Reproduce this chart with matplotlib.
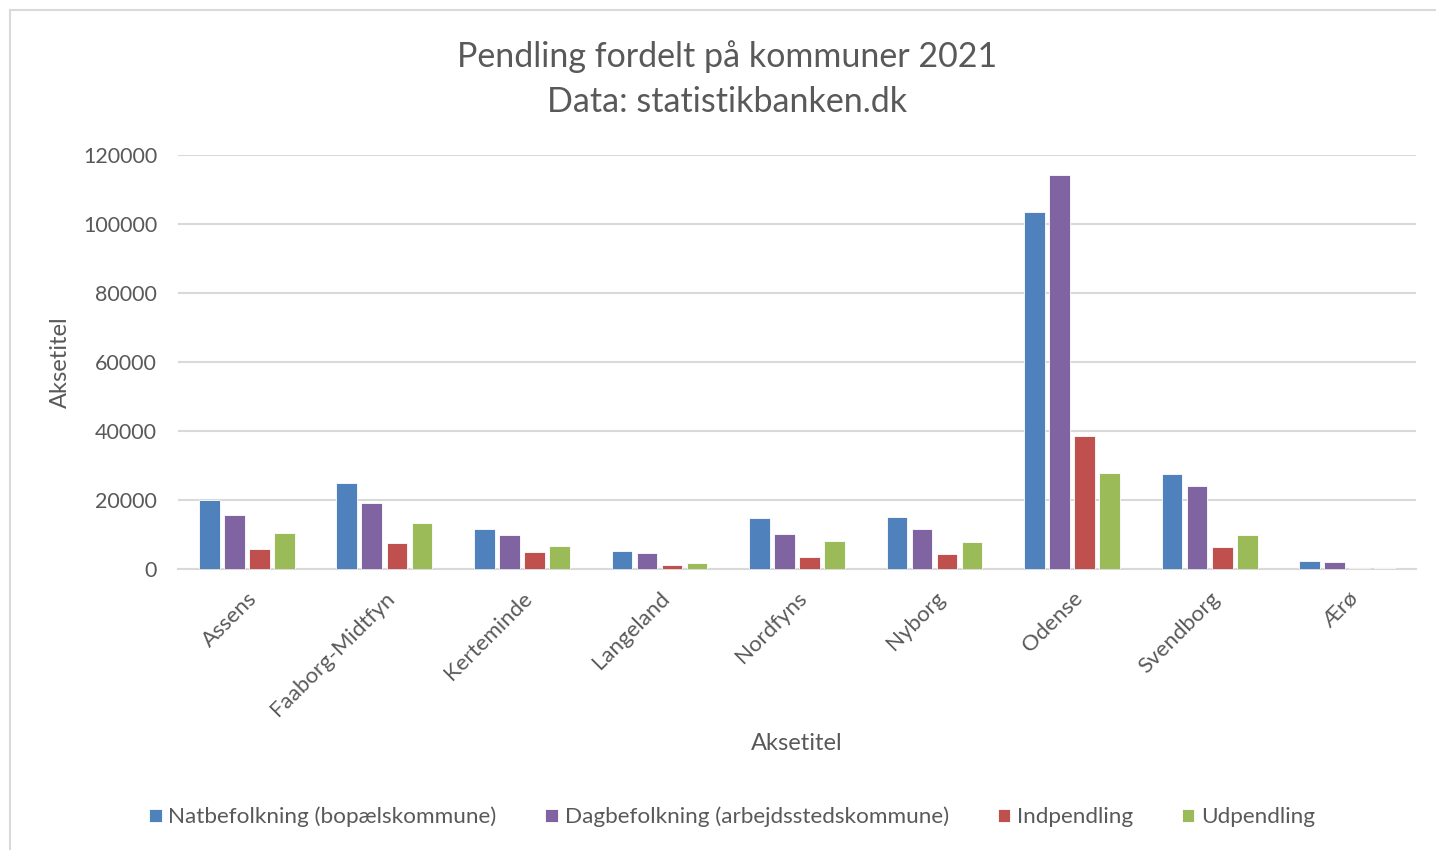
import matplotlib
matplotlib.use("Agg")
import matplotlib.pyplot as plt
import numpy as np
from matplotlib.patches import Rectangle

plt.rcParams['font.family'] = ['Lato', 'DejaVu Sans']

categories = ["Assens", "Faaborg-Midtfyn", "Kerteminde", "Langeland", "Nordfyns",
              "Nyborg", "Odense", "Svendborg", "Ærø"]
series_names = ["Natbefolkning (bopælskommune)", "Dagbefolkning (arbejdsstedskommune)",
                "Indpendling", "Udpendling"]
natbefolkning = [20100, 25000, 11600, 5200, 14700, 15000, 103400, 27500, 2400]
dagbefolkning = [15600, 19000, 10000, 4500, 10100, 11500, 114300, 24200, 2100]
indpendling = [5700, 7450, 4900, 1070, 3600, 4300, 38500, 6500, 200]
udpendling = [10300, 13300, 6600, 1650, 8100, 7700, 27700, 10000, 400]
yticks = [0, 20000, 40000, 60000, 80000, 100000, 120000]

colors = ["#4F81BD", "#8064A2", "#C0504D", "#9BBB59"]
txt = "#595959"

W, H = 1436, 850
fig = plt.figure(figsize=(W / 100, H / 100), dpi=100)
fig.patches.append(Rectangle((10 / W, -0.1), 1.2, 1 - 10 / H + 0.1, transform=fig.transFigure,
                             fill=False, edgecolor="#d9d9d9", linewidth=1.5))

ax = fig.add_axes([178 / W, 1 - 569 / H, (1416 - 178) / W, (569 - 155) / H])
x = np.arange(len(categories))
pitch = 0.182
bw = 0.150
data = [natbefolkning, dagbefolkning, indpendling, udpendling]
for i, (vals, c, name) in enumerate(zip(data, colors, series_names)):
    ax.bar(x + (i - 1.5) * pitch, vals, width=bw, color=c, edgecolor="white",
           linewidth=0.6, label=name, zorder=3)

ax.set_xlim(-0.5, len(categories) - 0.5)
ax.set_ylim(0, 120000)
ax.set_yticks(yticks)
ax.set_yticklabels([str(v) for v in yticks], fontsize=15.5, color=txt)
ax.set_xticks(x)
ax.set_xticklabels(categories, rotation=45, ha="right", rotation_mode="anchor",
                   fontsize=16, color=txt)
ax.tick_params(axis="both", length=0)
ax.tick_params(axis="y", pad=15)
ax.tick_params(axis="x", pad=14)
ax.grid(axis="y", color="#d9d9d9", linewidth=1.5, zorder=0)
for s in ["top", "right", "left"]:
    ax.spines[s].set_visible(False)
ax.spines["bottom"].set_color("#d9d9d9")
ax.spines["bottom"].set_linewidth(1.5)

ax.set_xlabel("Aksetitel", fontsize=17, color=txt)
ax.xaxis.set_label_coords((797 - 178) / (1416 - 178), -(733 - 569) / (569 - 155))
ax.set_ylabel("Aksetitel", fontsize=17, color=txt)
ax.yaxis.set_label_coords(-(178 - 71) / (1416 - 178), 0.5)

fig.text(727 / W, 1 - 57 / H, "Pendling fordelt på kommuner 2021", ha="center", va="center",
         fontsize=24.5, color=txt)
fig.text(727 / W, 1 - 102 / H, "Data: statistikbanken.dk", ha="center", va="center",
         fontsize=24.5, color=txt)

leg = fig.legend(loc="center", bbox_to_anchor=(732 / W, 1 - 817 / H), ncol=4, frameon=False,
                 fontsize=16.2, handlelength=0.55, handleheight=0.55, handletextpad=0.3,
                 columnspacing=2.17, labelcolor=txt)

fig.savefig("out.png", dpi=100)
